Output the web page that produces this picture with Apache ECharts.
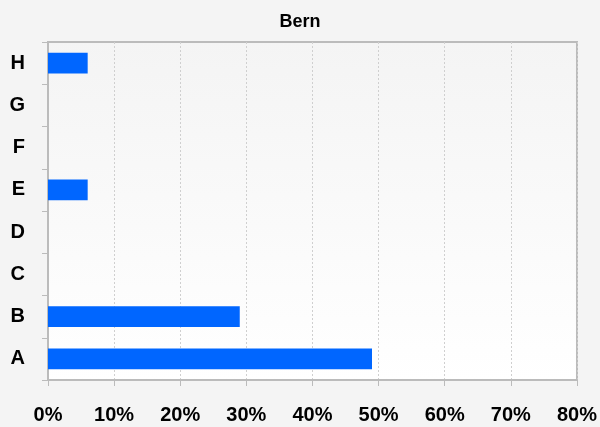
<!DOCTYPE html>
<html><head><meta charset="utf-8">
<script src="https://cdn.jsdelivr.net/npm/echarts@6/dist/echarts.min.js"></script>
<style>html,body{margin:0;padding:0;background:#f4f4f4}#c{width:600px;height:427px}</style>
</head><body><div id="c"></div>
<script>
var categories = ['A','B','C','D','E','F','G','H'];
var values = [49, 29, 0, 0, 6, 0, 0, 6];
var chartTitle = 'Bern';
var chart = echarts.init(document.getElementById('c'));
chart.setOption({
  backgroundColor: '#f4f4f4',
  animation: false,
  title: { text: chartTitle, left: 'center', top: 8, textStyle: { fontFamily: 'Liberation Sans', fontWeight: 'bold', fontSize: 18, color: '#000' } },
  grid: { left: 48, right: 22, top: 42, bottom: 47, show: true, borderColor: '#bbbbbb', borderWidth: 2,
    backgroundColor: { type: 'linear', x: 0, y: 0, x2: 0, y2: 1, colorStops: [{offset:0,color:'#f4f4f4'},{offset:1,color:'#ffffff'}] } },
  xAxis: { type: 'value', min: 0, max: 80, interval: 10,
    axisLine: { show: true, lineStyle: { color: '#bbbbbb', width: 2 } },
    axisTick: { show: true, length: 6, lineStyle: { color: '#bbbbbb' } },
    splitLine: { show: true, lineStyle: { color: '#cfcfcf', type: [2, 2] } },
    axisLabel: { formatter: '{value}%', margin: 25, fontFamily: 'Liberation Sans', fontWeight: 'bold', fontSize: 20, color: '#000' } },
  yAxis: { type: 'category', data: categories,
    axisLine: { show: true, lineStyle: { color: '#bbbbbb', width: 2 } },
    axisTick: { show: true, length: 6, lineStyle: { color: '#bbbbbb' } },
    axisLabel: { margin: 23, fontFamily: 'Liberation Sans', fontWeight: 'bold', fontSize: 20, color: '#000' } },
  series: [{ type: 'bar', data: values, barWidth: '49%', itemStyle: { color: '#0066ff' } }]
});
</script></body></html>
